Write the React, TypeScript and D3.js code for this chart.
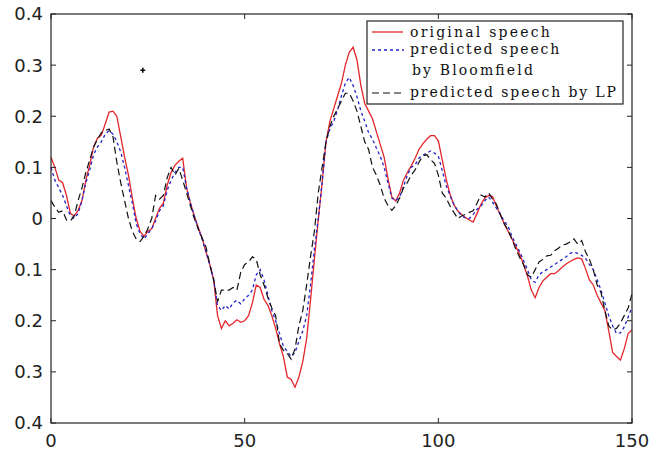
import React from "react";
import * as d3 from "d3";

const original: number[] = [
  0.12, 0.1, 0.075, 0.07, 0.045, 0.01, 0.005, 0.016, 0.035, 0.075,
  0.105, 0.14, 0.157, 0.163, 0.185, 0.208, 0.21, 0.2, 0.16, 0.12,
  0.085, 0.04, 0.0, -0.025, -0.035, -0.025, -0.02, 0.0, 0.02, 0.03,
  0.065, 0.09, 0.104, 0.112, 0.118, 0.06, 0.03, 0.005, -0.017, -0.038,
  -0.065, -0.09, -0.12, -0.19, -0.215, -0.2, -0.21, -0.205, -0.198, -0.203,
  -0.2, -0.19, -0.165, -0.13, -0.135, -0.158, -0.17, -0.19, -0.215, -0.245,
  -0.27, -0.31, -0.315, -0.33, -0.31, -0.28, -0.235, -0.16, -0.08, -0.003,
  0.07, 0.15, 0.19, 0.215, 0.24, 0.265, 0.3, 0.325, 0.335, 0.31,
  0.26, 0.225, 0.21, 0.195, 0.17, 0.145, 0.12, 0.078, 0.042, 0.034,
  0.05, 0.075, 0.09, 0.103, 0.118, 0.135, 0.146, 0.155, 0.162, 0.162,
  0.152, 0.115, 0.078, 0.048, 0.027, 0.015, 0.008, 0.002, -0.003, -0.007,
  0.01, 0.028, 0.04, 0.045, 0.043, 0.024, 0.008, -0.01, -0.025, -0.04,
  -0.055, -0.07, -0.09, -0.112, -0.14, -0.155, -0.135, -0.122, -0.115, -0.108,
  -0.108, -0.102, -0.095, -0.089, -0.084, -0.08, -0.077, -0.079, -0.098, -0.12,
  -0.13, -0.15, -0.165, -0.18, -0.22, -0.262, -0.27, -0.277, -0.255, -0.225,
  -0.218,
];

const bloomfield: number[] = [
  0.1, 0.075, 0.06, 0.045, 0.025, 0.005, 0.0, 0.01, 0.035, 0.07,
  0.095, 0.125, 0.14, 0.15, 0.165, 0.172, 0.165, 0.15, 0.13, 0.1,
  0.065, 0.03, -0.01, -0.03, -0.04, -0.03, -0.02, -0.005, 0.015, 0.025,
  0.055, 0.075, 0.09, 0.1, 0.1, 0.06, 0.03, 0.005, -0.02, -0.04,
  -0.065, -0.09, -0.12, -0.17, -0.18, -0.17, -0.177, -0.165, -0.16, -0.167,
  -0.157, -0.15, -0.14, -0.11, -0.1, -0.12, -0.15, -0.18, -0.2, -0.225,
  -0.25, -0.26, -0.27, -0.262, -0.24, -0.22, -0.19, -0.13, -0.06, 0.0,
  0.07, 0.15, 0.175, 0.19, 0.213, 0.24, 0.265, 0.276, 0.26, 0.238,
  0.21, 0.19, 0.168, 0.155, 0.138, 0.122, 0.1, 0.07, 0.04, 0.035,
  0.042, 0.062, 0.085, 0.1, 0.105, 0.118, 0.124, 0.128, 0.132, 0.128,
  0.122, 0.094, 0.065, 0.045, 0.028, 0.015, 0.005, 0.001, 0.0, 0.008,
  0.018, 0.024, 0.035, 0.042, 0.032, 0.02, 0.008, -0.005, -0.015, -0.035,
  -0.05, -0.065, -0.082, -0.1, -0.12, -0.125, -0.11, -0.104, -0.1, -0.095,
  -0.09, -0.085, -0.08, -0.075, -0.068, -0.066, -0.068, -0.072, -0.078, -0.09,
  -0.1, -0.12, -0.14, -0.165, -0.19, -0.21, -0.225, -0.224, -0.212, -0.193,
  -0.173,
];

const lp: number[] = [
  0.035, 0.022, 0.012, 0.015, -0.003, -0.005, 0.005, 0.035, 0.06, 0.09,
  0.115, 0.14, 0.155, 0.168, 0.172, 0.175, 0.16, 0.11, 0.07, 0.035,
  0.0, -0.025, -0.04, -0.045, -0.035, -0.02, 0.0, 0.045, 0.038, 0.045,
  0.08, 0.1, 0.085, 0.098, 0.075, 0.05, 0.025, 0.0, -0.02, -0.038,
  -0.055, -0.09, -0.12, -0.163, -0.14, -0.14, -0.14, -0.135, -0.14, -0.105,
  -0.09, -0.085, -0.075, -0.08, -0.11, -0.13, -0.155, -0.175, -0.19, -0.245,
  -0.258, -0.264, -0.275, -0.255, -0.21, -0.18, -0.13, -0.075, -0.025, 0.05,
  0.1, 0.15, 0.18, 0.2, 0.215, 0.23, 0.245, 0.245, 0.23, 0.21,
  0.18, 0.15, 0.135, 0.1, 0.085, 0.065, 0.04, 0.025, 0.016, 0.025,
  0.04, 0.06, 0.07, 0.085, 0.095, 0.11, 0.122, 0.125, 0.115, 0.108,
  0.085, 0.05, 0.04, 0.025, 0.012, 0.0, 0.005, 0.008, 0.012, 0.015,
  0.03, 0.046, 0.042, 0.05, 0.038, 0.028, 0.008, -0.01, -0.023, -0.04,
  -0.06, -0.076, -0.09, -0.11, -0.115, -0.1, -0.085, -0.08, -0.073, -0.072,
  -0.063, -0.058, -0.052, -0.05, -0.046, -0.04, -0.05, -0.043, -0.065, -0.08,
  -0.1, -0.13, -0.145, -0.18, -0.21, -0.218, -0.215, -0.205, -0.19, -0.175,
  -0.147,
];

const strayPoint: [number, number] = [23.7, 0.29];

const xTicks: number[] = [0, 50, 100, 150];
const xTickLabels: string[] = ["0", "50", "100", "150"];
const yTicks: number[] = [0.4, 0.3, 0.2, 0.1, 0, -0.1, -0.2, -0.3, -0.4];
const yTickLabels: string[] = ["0.4", "0.3", "0.2", "0.1", "0", "0.1", "0.2", "0.3", "0.4"];

const legendLabels: string[] = [
  "original speech",
  "predicted speech",
  "by Bloomfield",
  "predicted speech by LP",
];

const W = 662;
const H = 451;
const L = 51;
const R = 632;
const T = 14;
const B = 423;
const CHAR_W = 9.45;

export default function App() {
  const x = d3.scaleLinear().domain([0, 150]).range([L, R]);
  const y = d3.scaleLinear().domain([-0.4, 0.4]).range([B, T]);
  const line = d3
    .line<number>()
    .x((_, i) => x(i))
    .y((d) => y(d));

  const tickLen = 5;
  const tickFont = { fontFamily: "DejaVu Sans", fontSize: 18, fill: "#222" };
  const legFont = {
    fontFamily: "'DejaVu Serif', serif",
    fontSize: 14,
    fill: "#111",
    lengthAdjust: "spacing" as const,
  };

  const cross = d3.symbol(d3.symbolCross, 14)();
  const legY = [37, 54, 75, 97];
  const legX = [410, 410, 412, 410];

  return (
    <svg
      width={W}
      height={H}
      style={{ position: "absolute", left: 0, top: 0, background: "#fff" }}
    >
      <rect x={0} y={0} width={W} height={H} fill="#fff" />
      <g fill="none">
        <path d={line(original) || ""} stroke="#e3262b" strokeWidth={1.3} />
        <path
          d={line(bloomfield) || ""}
          stroke="#2222cc"
          strokeWidth={1.3}
          strokeDasharray="3,3"
        />
        <path
          d={line(lp) || ""}
          stroke="#111"
          strokeWidth={1.2}
          strokeDasharray="7,4"
        />
      </g>
      <path
        d={cross || ""}
        transform={`translate(${x(strayPoint[0])},${y(strayPoint[1])})`}
        fill="#111"
      />
      <rect x={L} y={T} width={R - L} height={B - T} fill="none" stroke="#222" strokeWidth={1.2} />
      {xTicks.map((t, i) => (
        <g key={"xt" + i}>
          <line x1={x(t)} x2={x(t)} y1={B} y2={B - tickLen} stroke="#222" />
          <line x1={x(t)} x2={x(t)} y1={T} y2={T + tickLen} stroke="#222" />
          <text x={x(t)} y={447} textAnchor="middle" {...tickFont}>
            {xTickLabels[i]}
          </text>
        </g>
      ))}
      {yTicks.map((t, i) => (
        <g key={"yt" + i}>
          <line x1={L} x2={L + tickLen} y1={y(t)} y2={y(t)} stroke="#222" />
          <line x1={R} x2={R - tickLen} y1={y(t)} y2={y(t)} stroke="#222" />
          <text x={43} y={y(t)} dy="0.36em" textAnchor="end" {...tickFont}>
            {yTickLabels[i]}
          </text>
        </g>
      ))}
      <rect x={367} y={21} width={256} height={83} fill="#fff" stroke="#222" strokeWidth={1.2} />
      <line x1={372} x2={403} y1={32} y2={32} stroke="#e3262b" strokeWidth={1.3} />
      <line x1={372} x2={404} y1={50} y2={50} stroke="#2222cc" strokeWidth={1.3} strokeDasharray="3,3" />
      <line x1={372} x2={404} y1={93} y2={93} stroke="#111" strokeWidth={1.2} strokeDasharray="7,4" />
      {legendLabels.map((s, i) => (
        <text
          key={"lg" + i}
          x={legX[i]}
          y={legY[i]}
          textLength={s.length * CHAR_W - 2}
          {...legFont}
        >
          {s}
        </text>
      ))}
    </svg>
  );
}
